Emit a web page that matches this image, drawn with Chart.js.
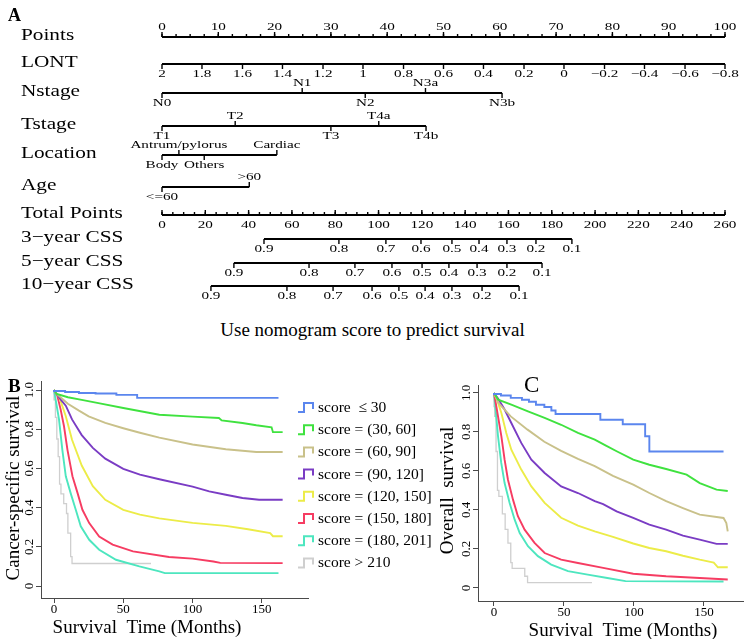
<!DOCTYPE html>
<html>
<head>
<meta charset="utf-8">
<title>Nomogram score and survival</title>
<script src="https://cdn.jsdelivr.net/npm/chart.js@4.4.1/dist/chart.umd.min.js"></script>
<style>
  body { margin: 0; background: #fff; font-family: "Liberation Serif", "Times New Roman", serif; }
  #page { position: relative; width: 745px; height: 639px; overflow: hidden; background: #fff; }
  canvas, .txt { position: absolute; }
  .txt { line-height: 1; color: #000; }
</style>
</head>
<body>
<div id="page">
  <canvas id="nomo" width="745" height="300" style="left:0;top:0"></canvas>
  <canvas id="css" width="440" height="267" style="left:0;top:372px"></canvas>
  <canvas id="os" width="320" height="267" style="left:425px;top:372px"></canvas>
  <div class="txt" style="left:8px;top:6px;font-weight:bold;font-size:18px">A</div>
  <div class="txt" style="left:0;top:320px;width:745px;text-align:center;font-size:19px">Use nomogram score to predict survival</div>
  <div class="txt" style="left:8px;top:376px;font-weight:bold;font-size:19px">B</div>
  <div class="txt" style="left:524px;top:373px;font-size:23px">C</div>
</div>
<script>
// ---- nomogram (panel A) ----
const pointsTicks = [0, 10, 20, 30, 40, 50, 60, 70, 80, 90, 100];
const lontLabels = ['2', '1.8', '1.6', '1.4', '1.2', '1', '0.8', '0.6', '0.4', '0.2', '0', '\u22120.2', '\u22120.4', '\u22120.6', '\u22120.8'];
const lontPoints = [0, 7.1, 14.3, 21.4, 28.6, 35.7, 42.9, 50, 57.1, 64.3, 71.4, 78.6, 85.7, 92.9, 100];
const nstageLabels = ['N0', 'N1', 'N2', 'N3a', 'N3b'];
const nstagePoints = [0, 24.9, 36.1, 46.8, 60.4];
const tstageLabels = ['T1', 'T2', 'T3', 'T4a', 'T4b'];
const tstagePoints = [0, 13.0, 30.0, 38.5, 46.9];
const locationLabels = ['Body', 'Antrum/pylorus', 'Others', 'Cardiac'];
const locationPoints = [0, 3.0, 7.5, 20.4];
const ageLabels = ['<=60', '>60'];
const agePoints = [0, 15.5];
const totalTicks = [0, 20, 40, 60, 80, 100, 120, 140, 160, 180, 200, 220, 240, 260];
const cssProbs = ['0.9', '0.8', '0.7', '0.6', '0.5', '0.4', '0.3', '0.2', '0.1'];
const css3Total = [47.1, 81.7, 103.4, 119.6, 133.9, 146.4, 159.3, 172.7, 189.3];
const css5Total = [33.2, 67.9, 89.1, 106.2, 120.1, 132.5, 145.5, 159.3, 175.5];
const css10Total = [22.6, 57.7, 79.0, 97.0, 109.4, 121.5, 133.9, 147.8, 164.9];

// ---- survival curves (panels B and C), [months, survival] ----
const groups = ['score  \u2264 30', 'score = (30, 60]', 'score = (60, 90]', 'score = (90, 120]',
  'score = (120, 150]', 'score = (150, 180]', 'score = (180, 201]', 'score > 210'];
const monthTicks = [0, 50, 100, 150];
const survTicks = [0, 0.2, 0.4, 0.6, 0.8, 1.0];

const cssLe30 = [[0, 1], [8, 0.995], [18, 0.99], [30, 0.985], [45, 0.982], [60, 0.975], [75, 0.96], [162, 0.96]];
const css30to60 = [[0, 1], [2, 0.98], [10, 0.963], [20, 0.95], [33, 0.932], [50, 0.908], [76, 0.874], [100, 0.864], [119, 0.857], [121, 0.845], [136, 0.832], [146, 0.82], [157, 0.81], [158, 0.785], [165, 0.785]];
const css60to90 = [[0, 1], [2, 0.98], [10, 0.93], [18, 0.895], [25, 0.866], [37, 0.832], [50, 0.805], [62, 0.782], [76, 0.757], [100, 0.722], [124, 0.698], [146, 0.684], [165, 0.684]];
const css90to120 = [[0, 1], [2, 0.98], [5, 0.95], [8.5, 0.92], [13, 0.85], [20, 0.77], [28, 0.705], [37, 0.65], [50, 0.598], [62, 0.568], [76, 0.545], [100, 0.507], [112, 0.483], [124, 0.466], [136, 0.449], [148, 0.44], [165, 0.44]];
const css120to150 = [[0, 1], [2, 0.98], [4, 0.96], [8.5, 0.866], [13, 0.746], [20, 0.615], [28, 0.509], [37, 0.44], [50, 0.389], [62, 0.364], [76, 0.345], [100, 0.322], [124, 0.307], [140, 0.29], [156, 0.27], [158, 0.254], [165, 0.254]];
const css150to180 = [[0, 1], [2.4, 0.97], [4.8, 0.9], [7.2, 0.815], [9.7, 0.695], [13.3, 0.56], [17, 0.474], [20.5, 0.389], [25.4, 0.321], [32.6, 0.253], [42.3, 0.211], [57, 0.177], [83, 0.148], [100, 0.14], [115, 0.125], [120, 0.118], [165, 0.117]];
const css180to201 = [[0, 1], [1.2, 0.95], [3.6, 0.85], [6, 0.695], [8.5, 0.56], [12, 0.474], [15.7, 0.389], [19.3, 0.305], [25.4, 0.236], [32.6, 0.185], [44.7, 0.134], [61.6, 0.1], [76, 0.075], [80, 0.066], [162, 0.066]];
const cssOver210 = [[0, 1], [1, 0.95], [2, 0.86], [3, 0.75], [4, 0.66], [5, 0.52], [7, 0.47], [9, 0.42], [10, 0.37], [12, 0.27], [13, 0.15], [16, 0.115], [70, 0.115]];

const osLe30 = [[0, 1], [5, 0.995], [12, 0.987], [20, 0.975], [25, 0.965], [30, 0.955], [36, 0.94], [41, 0.928], [44, 0.91], [76, 0.892], [92, 0.863], [108, 0.84], [111, 0.778], [154, 0.7], [164, 0.7]];
const os30to60 = [[0, 1], [3, 0.966], [12.4, 0.94], [24.3, 0.906], [36.2, 0.872], [48, 0.837], [60, 0.795], [72, 0.761], [80, 0.73], [88, 0.7], [99.5, 0.658], [111, 0.632], [123, 0.61], [137.6, 0.581], [147, 0.538], [159, 0.504], [167, 0.497]];
const os60to90 = [[0, 1], [3, 0.95], [12, 0.88], [24, 0.812], [36, 0.75], [48, 0.703], [60, 0.662], [72, 0.625], [85, 0.575], [99.5, 0.53], [111, 0.487], [123, 0.445], [135, 0.41], [147, 0.376], [164, 0.359], [166, 0.333], [167, 0.29]];
const os90to120 = [[0, 1], [3, 0.97], [7.6, 0.915], [12.4, 0.846], [19.5, 0.744], [26.7, 0.658], [36.2, 0.59], [48, 0.521], [60, 0.487], [72, 0.445], [78, 0.43], [87.6, 0.393], [99.5, 0.359], [111, 0.325], [123, 0.299], [135, 0.268], [147, 0.248], [159, 0.226], [167, 0.226]];
const os120to150 = [[0, 1], [2, 0.97], [5.3, 0.897], [8.8, 0.795], [12.4, 0.709], [19.5, 0.607], [26.7, 0.521], [36.2, 0.436], [48, 0.36], [60, 0.32], [72, 0.29], [85, 0.262], [99.5, 0.228], [111, 0.205], [123, 0.188], [135, 0.165], [147, 0.145], [157, 0.13], [160, 0.106], [167, 0.106]];
const os150to180 = [[0, 1], [1, 0.96], [2.9, 0.88], [5.3, 0.778], [7.6, 0.658], [10, 0.555], [13.6, 0.453], [17.1, 0.368], [21.9, 0.299], [29, 0.231], [36.2, 0.179], [48, 0.145], [60, 0.128], [78, 0.103], [99.5, 0.073], [123, 0.06], [147, 0.051], [167, 0.043]];
const os180to201 = [[0, 1], [1, 0.93], [2.9, 0.778], [5.2, 0.641], [7.6, 0.538], [11.2, 0.436], [14.8, 0.35], [18.4, 0.282], [24.3, 0.214], [31.4, 0.163], [40.9, 0.12], [52.9, 0.086], [67, 0.068], [81, 0.051], [94, 0.035], [164, 0.033]];
const osOver210 = [[0, 1], [0.5, 0.93], [1.5, 0.88], [2.5, 0.7], [3.5, 0.5], [6, 0.47], [8, 0.38], [10, 0.3], [12, 0.23], [13, 0.13], [22, 0.1], [24, 0.06], [46, 0.027], [70, 0.027]];

// styles / layout
const palette = ['#5b86ee', '#3fe23f', '#c9c18a', '#7a3cc4', '#ecec48', '#f63c62', '#4de6bf', '#cfcfcf'];
const steppedGroups = [true, false, false, false, false, false, false, true];
const axisColor = '#4a4a4a';
const serif = '"Liberation Serif", "Times New Roman", serif';

const pts = arr => arr.map(([x, y]) => ({ x, y }));

// text squeezed/stretched like the original figure
function drawText(ctx, txt, x, y, sx) {
  ctx.save();
  ctx.translate(x, y);
  ctx.scale(sx, 1);
  ctx.fillText(txt, 0, 0);
  ctx.restore();
}

// rows of the nomogram: label side -1 = above, 1 = below
const rowY = [37, 64, 93, 126, 155, 187, 215, 239, 263, 286];
const alt = n => Array.from({ length: n }, (_, i) => (i % 2 ? -1 : 1));
const nomoRows = [
  { name: 'Points', axis: 'x', at: pointsTicks, text: pointsTicks.map(String), side: -1, tick: -1, minor: 2.5 },
  { name: 'LONT', axis: 'x', at: lontPoints, text: lontLabels, side: 1, tick: 1 },
  { name: 'Nstage', axis: 'x', at: nstagePoints, text: nstageLabels, side: alt(5) },
  { name: 'Tstage', axis: 'x', at: tstagePoints, text: tstageLabels, side: alt(5) },
  { name: 'Location', axis: 'x', at: locationPoints, text: locationLabels, side: alt(4) },
  { name: 'Age', axis: 'x', at: agePoints, text: ageLabels, side: alt(2) },
  { name: 'Total Points', axis: 'xt', at: totalTicks, text: totalTicks.map(String), side: 1, tick: -1, minor: 5 },
  { name: '3\u2212year CSS', axis: 'xt', at: css3Total, text: cssProbs, side: 1, tick: 1 },
  { name: '5\u2212year CSS', axis: 'xt', at: css5Total, text: cssProbs, side: 1, tick: 1 },
  { name: '10\u2212year CSS', axis: 'xt', at: css10Total, text: cssProbs, side: 1, tick: 1 }
];

const nomoText = {
  id: 'nomoText',
  afterDatasetsDraw(chart) {
    const { ctx } = chart;
    const yScale = chart.scales.y;
    ctx.save();
    ctx.fillStyle = '#000';
    ctx.strokeStyle = '#000';
    ctx.lineWidth = 1.4;
    ctx.textBaseline = 'middle';
    nomoRows.forEach((row, r) => {
      const sc = chart.scales[row.axis];
      const y = yScale.getPixelForValue(rowY[r]);
      // row name
      ctx.textAlign = 'left';
      ctx.font = '17px ' + serif;
      drawText(ctx, row.name, 21, y - 1, 1.25);
      // minor ticks
      if (row.minor) {
        const last = row.at[row.at.length - 1];
        ctx.beginPath();
        for (let v = 0; v <= last + 1e-6; v += row.minor) {
          const px = sc.getPixelForValue(v);
          ctx.moveTo(px, y);
          ctx.lineTo(px, y + row.tick * 3);
        }
        ctx.stroke();
      }
      ctx.textAlign = 'center';
      ctx.font = '11px ' + serif;
      row.at.forEach((v, i) => {
        const px = sc.getPixelForValue(v);
        const side = Array.isArray(row.side) ? row.side[i] : row.side;
        const dir = row.tick || side;
        ctx.beginPath();
        ctx.moveTo(px, y);
        ctx.lineTo(px, y + dir * 5);
        ctx.stroke();
        drawText(ctx, row.text[i], px, y + side * 10, 1.38);
      });
    });
    ctx.restore();
  }
};

const nomoSets = nomoRows.map((row, r) => ({
  data: [{ x: row.at[0], y: rowY[r] }, { x: row.at[row.at.length - 1], y: rowY[r] }],
  xAxisID: row.axis,
  showLine: true,
  borderColor: '#000',
  borderWidth: 2,
  pointRadius: 0
}));

new Chart(document.getElementById('nomo'), {
  type: 'scatter',
  data: { datasets: nomoSets },
  options: {
    responsive: false,
    animation: false,
    layout: { padding: { left: 162, right: 20, top: 0, bottom: 0 } },
    scales: {
      x: { type: 'linear', min: 0, max: 100, display: false },
      xt: { type: 'linear', axis: 'x', min: 0, max: 260, display: false },
      y: { type: 'linear', min: 0, max: 300, reverse: true, display: false }
    },
    plugins: { legend: { display: false }, tooltip: { enabled: false } }
  },
  plugins: [nomoText]
});

// ---- survival panels ----
function survText(cfg) {
  return {
    id: 'survText',
    afterDraw(chart) {
      const { ctx, chartArea: a, scales: { x, y } } = chart;
      ctx.save();
      ctx.fillStyle = '#000';
      ctx.textAlign = 'center';
      ctx.textBaseline = 'middle';
      ctx.font = '13px ' + serif;
      x.ticks.forEach(t => ctx.fillText(String(t.value), x.getPixelForValue(t.value), a.bottom + 12));
      y.ticks.forEach(t => {
        ctx.save();
        ctx.translate(a.left - 11, y.getPixelForValue(t.value));
        ctx.rotate(-Math.PI / 2);
        ctx.fillText(t.value === 0 ? '0' : t.value.toFixed(1), 0, 0);
        ctx.restore();
      });
      ctx.font = '19px ' + serif;
      ctx.fillText('Survival  Time (Months)', a.left + cfg.xTitleShift, a.bottom + 30);
      ctx.save();
      ctx.translate(a.left - cfg.yTitleGap, y.getPixelForValue(0.5));
      ctx.rotate(-Math.PI / 2);
      ctx.fillText(cfg.yTitle, 0, 0);
      ctx.restore();
      if (cfg.legend) {
        ctx.font = '15.5px ' + serif;
        ctx.textAlign = 'left';
        ctx.lineWidth = 2;
        chart.data.datasets.forEach((ds, i) => {
          const lx = a.right - 10, ly = 36 + i * 22.2;
          ctx.strokeStyle = ds.borderColor;
          ctx.beginPath();
          ctx.moveTo(lx, ly + 4);
          ctx.lineTo(lx + 6, ly + 4);
          ctx.lineTo(lx + 6, ly - 5);
          ctx.lineTo(lx + 15, ly - 5);
          ctx.lineTo(lx + 15, ly + 1);
          ctx.stroke();
          ctx.fillText(ds.label, lx + 20, ly);
        });
      }
      ctx.restore();
    }
  };
}

function survChart(id, series, xr, yr, padding, cfg) {
  const axisOpts = {
    grid: { display: true, drawOnChartArea: false, drawTicks: true, tickLength: 5, color: axisColor },
    border: { display: true, color: axisColor, width: 1 },
    ticks: { display: false }
  };
  return new Chart(document.getElementById(id), {
    type: 'scatter',
    data: {
      datasets: series.map((s, i) => ({
        label: groups[i],
        data: pts(s),
        showLine: true,
        stepped: steppedGroups[i] ? 'after' : false,
        borderColor: palette[i],
        borderWidth: i === 7 ? 1.3 : 1.9,
        pointRadius: 0
      }))
    },
    options: {
      responsive: false,
      animation: false,
      layout: { padding },
      scales: {
        x: Object.assign({ type: 'linear', min: xr[0], max: xr[1],
          afterBuildTicks: s => { s.ticks = monthTicks.map(v => ({ value: v })); } }, axisOpts),
        y: Object.assign({ type: 'linear', min: yr[0], max: yr[1],
          afterBuildTicks: s => { s.ticks = survTicks.map(v => ({ value: v })); } }, axisOpts)
      },
      plugins: { legend: { display: false }, tooltip: { enabled: false } }
    },
    plugins: [survText(cfg)]
  });
}

survChart('css',
  [cssLe30, css30to60, css60to90, css90to120, css120to150, css150to180, css180to201, cssOver210],
  [-9.4, 183.3], [-0.061, 1.046],
  { left: 36, right: 132, top: 9, bottom: 36 },
  { yTitle: 'Cancer-specific survival', xTitleShift: 106, yTitleGap: 27, legend: true });

survChart('os',
  [osLe30, os30to60, os60to90, os90to120, os120to150, os150to180, os180to201, osOver210],
  [-11.4, 177.9], [-0.067, 1.041],
  { left: 48, right: 2, top: 13, bottom: 33 },
  { yTitle: 'Overall  survival', xTitleShift: 145, yTitleGap: 30, legend: false });
</script>
</body>
</html>
